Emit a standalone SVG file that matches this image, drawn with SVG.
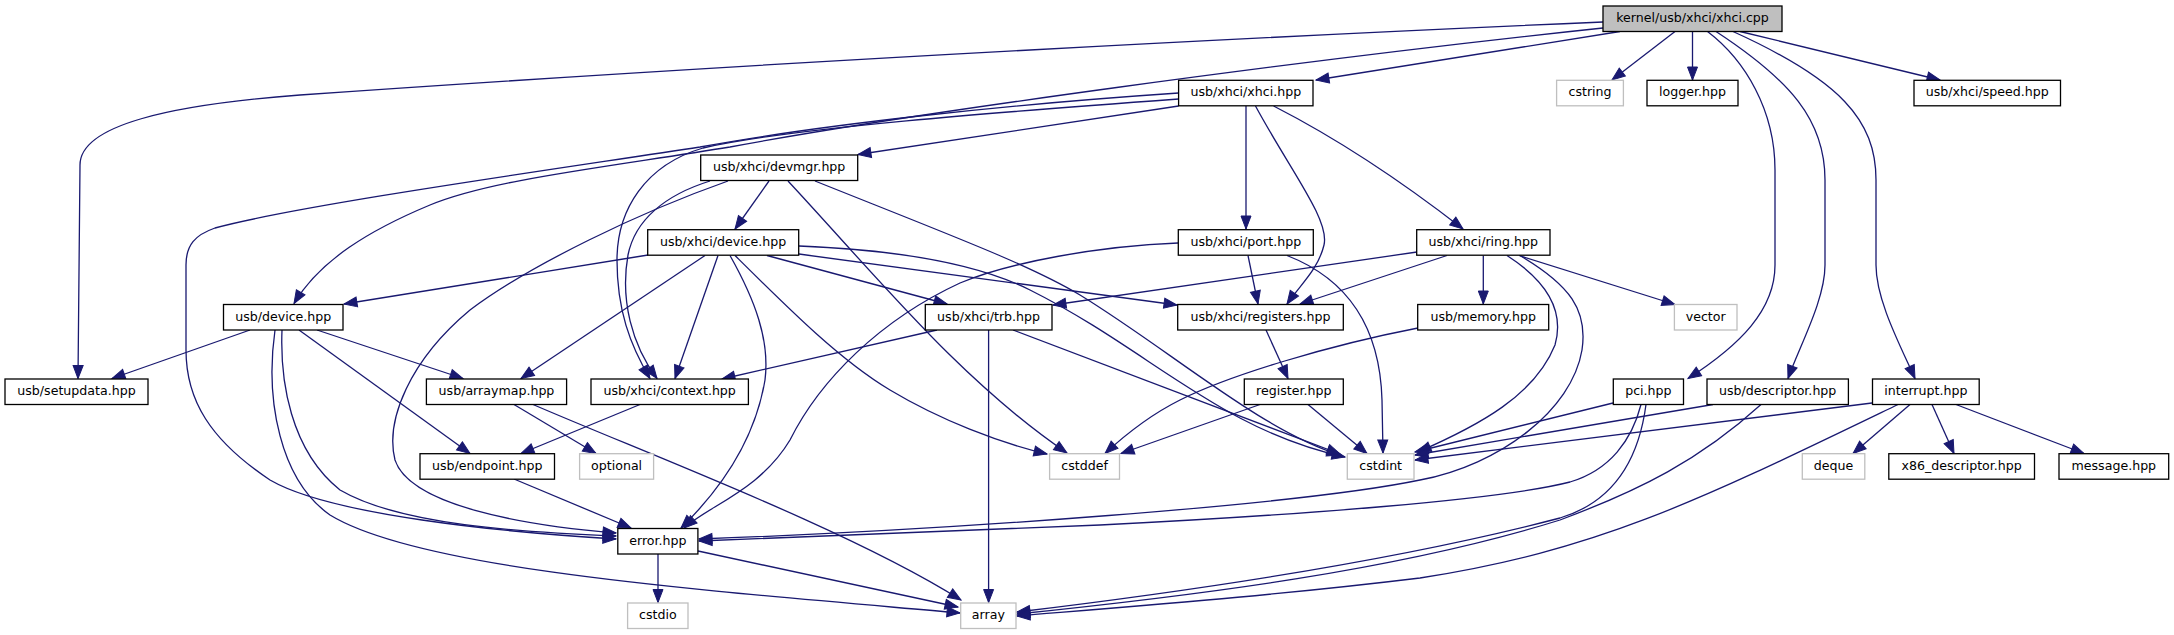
<svg xmlns="http://www.w3.org/2000/svg" width="2174" height="635" viewBox="0 0 2174 635">
<style>
.n rect{fill:#fff;stroke:#000;stroke-width:1.3}
.s rect{stroke:#bfbfbf}
.r rect{fill:#bfbfbf}
text{font-family:"DejaVu Sans",sans-serif;font-size:12.6px;text-anchor:middle;fill:#000}
#edges path{fill:none;stroke:#191970;stroke-width:1.3;marker-end:url(#a)}
</style>
<defs>
<marker id="a" markerUnits="userSpaceOnUse" markerWidth="14" markerHeight="11" refX="13" refY="5" orient="auto" overflow="visible">
<path d="M0,0 L13,5 L0,10 z" fill="#191970" stroke="#191970" stroke-width="1"/>
</marker>
</defs>
<rect width="2174" height="635" fill="#fff"/>
<g id="edges">
<path d="M1603,22 C1300,35 800,60 300,95 C170,105 80,125 80,165 L78,378.5"/>
<path d="M1603,28 C1300,60 900,115 730,147 C600,168 490,180 430,205 C370,230 320,260 294,303.5"/>
<path d="M1620,31.5 L1316,80"/>
<path d="M1675,31.5 L1612,80"/>
<path d="M1692.5,31.5 L1692.5,80"/>
<path d="M1740,31.5 L1940,80"/>
<path d="M1707.5,31.5 C1745,60 1775,110 1775,170 L1775,265 C1775,310 1740,345 1688,378.5"/>
<path d="M1716,31.5 C1790,80 1825,120 1825,180 L1825,265 C1825,300 1800,345 1788,378.5"/>
<path d="M1733,31.5 C1840,80 1876,120 1876,180 L1876,265 C1876,300 1900,345 1915,378.5"/>
<path d="M1178.6,106 L858,154.5"/>
<path d="M1246,106 L1246,229"/>
<path d="M1255.5,106 C1290,170 1330,220 1324,245 C1318,270 1300,285 1287,304"/>
<path d="M1273.6,106 C1340,140 1400,180 1463,229"/>
<path d="M1178.6,93 C1000,105 820,125 700,147 C550,170 300,205 215,228 C195,235 186,245 186,265 L186,350 C186,400 210,440 270,480 C330,515 500,532 616,539"/>
<path d="M1178.6,99 C1000,112 790,128 703,148 C645,165 617,210 617,260 C617,310 630,345 650,378.5"/>
<path d="M769,181 L735,229"/>
<path d="M710,181 C665,195 635,220 628,255 C620,300 632,345 657,378.5"/>
<path d="M728,181 C640,212 530,265 470,310 C410,360 385,420 395,460 C410,505 520,525 616,533"/>
<path d="M788,181 C880,280 960,380 1067,453"/>
<path d="M815,181 C950,235 1030,265 1080,295 C1170,350 1260,430 1340,455"/>
<path d="M648,255 L344,304"/>
<path d="M705,255.5 L521,378.5"/>
<path d="M718,255.5 L675,378.5"/>
<path d="M730,255.5 C755,300 770,340 765,380 C755,440 720,490 681,528"/>
<path d="M735,255.5 C790,310 840,360 890,390 C940,420 1000,443 1047,454"/>
<path d="M767,255.5 L947,304"/>
<path d="M799,246 C900,250 980,265 1030,290 C1150,350 1220,430 1345,457"/>
<path d="M799,254 L1177,305"/>
<path d="M1178,243 C1100,246 1010,262 960,283 C880,320 820,380 790,440 C760,490 710,505 684,528"/>
<path d="M1248,255.5 L1258,304"/>
<path d="M1287,255.5 C1350,280 1380,330 1382,400 L1383,453"/>
<path d="M1417,252 L1053,305"/>
<path d="M1447,255.5 L1300,304"/>
<path d="M1483.3,255.5 L1483.3,304"/>
<path d="M1519,255.5 L1675,304.5"/>
<path d="M1507,255.5 C1545,280 1565,310 1555,345 C1535,395 1480,425 1418,452"/>
<path d="M1520,255.5 C1570,285 1588,310 1582,350 C1572,410 1500,465 1420,480 C1300,505 950,530 699,539"/>
<path d="M250,330 L112,378.5"/>
<path d="M317,330 L463,378.5"/>
<path d="M299,330 L470,453.5"/>
<path d="M282,330 C280,380 290,450 340,490 C400,525 520,532 616,536"/>
<path d="M275,330 C265,400 280,480 330,515 C420,570 700,590 960,613"/>
<path d="M937,330 L722,379"/>
<path d="M988.6,330 L988.6,602.5"/>
<path d="M1013,330 L1340,454"/>
<path d="M1266,330 L1288,378.5"/>
<path d="M1418,328 C1330,345 1230,375 1180,400 C1150,415 1125,435 1105,453.5"/>
<path d="M514,404.5 L596,453.5"/>
<path d="M533,404.5 C650,455 850,530 961,600"/>
<path d="M640,404.5 L521,453.5"/>
<path d="M1260,404.5 L1121,453.5"/>
<path d="M1308,404.5 L1367,453.5"/>
<path d="M1613,403 L1415,452"/>
<path d="M1641,404.5 C1632,440 1610,470 1570,482 C1500,500 1300,515 1100,525 C950,532 800,537 699,541"/>
<path d="M1646,404.5 C1640,450 1620,500 1560,518 C1400,560 1200,590 1017,612"/>
<path d="M1713,404.5 L1415,455"/>
<path d="M1761,404.5 C1700,460 1640,490 1560,520 C1400,570 1200,595 1017,614"/>
<path d="M1872,403 L1415,460"/>
<path d="M1910,404.5 L1853,453.5"/>
<path d="M1932,404.5 L1954,453.5"/>
<path d="M1956,404.5 L2084,453.5"/>
<path d="M1898,404.5 C1700,500 1600,550 1420,578 C1280,595 1150,605 1017,616"/>
<path d="M514,479 L631,528"/>
<path d="M658,554 L658,602.5"/>
<path d="M698,551 L958,607"/>
</g>
<g id="n_xhci_cpp" class="n r"><rect x="1603" y="6" width="179" height="25.5"/><text x="1692.5" y="22">kernel/usb/xhci/xhci.cpp</text></g>
<g id="n_xhci_hpp" class="n"><rect x="1178.6" y="80.3" width="134.4" height="25.5"/><text x="1245.8" y="96.3">usb/xhci/xhci.hpp</text></g>
<g id="n_cstring" class="n s"><rect x="1556.6" y="80.3" width="66.8" height="25.5"/><text x="1590" y="96.3">cstring</text></g>
<g id="n_logger" class="n"><rect x="1647" y="80.3" width="91" height="25.5"/><text x="1692.5" y="96.3">logger.hpp</text></g>
<g id="n_speed" class="n"><rect x="1914" y="80.3" width="146.5" height="25.5"/><text x="1987.25" y="96.3">usb/xhci/speed.hpp</text></g>
<g id="n_devmgr" class="n"><rect x="700.7" y="155" width="157" height="25.5"/><text x="779.2" y="171">usb/xhci/devmgr.hpp</text></g>
<g id="n_xdevice" class="n"><rect x="647.7" y="229.7" width="151" height="25.5"/><text x="723.2" y="245.7">usb/xhci/device.hpp</text></g>
<g id="n_port" class="n"><rect x="1178.3" y="229.7" width="135" height="25.5"/><text x="1245.8" y="245.7">usb/xhci/port.hpp</text></g>
<g id="n_ring" class="n"><rect x="1416.7" y="229.7" width="133.3" height="25.5"/><text x="1483.3" y="245.7">usb/xhci/ring.hpp</text></g>
<g id="n_usbdevice" class="n"><rect x="223.5" y="304.5" width="119.5" height="25.5"/><text x="283.25" y="320.5">usb/device.hpp</text></g>
<g id="n_trb" class="n"><rect x="925.3" y="304.5" width="126.7" height="25.5"/><text x="988.6" y="320.5">usb/xhci/trb.hpp</text></g>
<g id="n_registers" class="n"><rect x="1177.7" y="304.5" width="165.6" height="25.5"/><text x="1260.5" y="320.5">usb/xhci/registers.hpp</text></g>
<g id="n_memory" class="n"><rect x="1417.7" y="304.5" width="131" height="25.5"/><text x="1483.2" y="320.5">usb/memory.hpp</text></g>
<g id="n_vector" class="n s"><rect x="1674.4" y="304.5" width="62.6" height="25.5"/><text x="1705.7" y="320.5">vector</text></g>
<g id="n_setupdata" class="n"><rect x="5" y="379" width="143" height="25.5"/><text x="76.5" y="395">usb/setupdata.hpp</text></g>
<g id="n_arraymap" class="n"><rect x="426.4" y="379" width="140.2" height="25.5"/><text x="496.5" y="395">usb/arraymap.hpp</text></g>
<g id="n_context" class="n"><rect x="591" y="379" width="157.4" height="25.5"/><text x="669.7" y="395">usb/xhci/context.hpp</text></g>
<g id="n_register" class="n"><rect x="1244.3" y="379" width="99" height="25.5"/><text x="1293.8" y="395">register.hpp</text></g>
<g id="n_pci" class="n"><rect x="1613.3" y="379" width="70.2" height="25.5"/><text x="1648.4" y="395">pci.hpp</text></g>
<g id="n_descriptor" class="n"><rect x="1707" y="379" width="141.4" height="25.5"/><text x="1777.7" y="395">usb/descriptor.hpp</text></g>
<g id="n_interrupt" class="n"><rect x="1872.5" y="379" width="106.7" height="25.5"/><text x="1925.85" y="395">interrupt.hpp</text></g>
<g id="n_endpoint" class="n"><rect x="420" y="453.7" width="134.5" height="25.5"/><text x="487.25" y="469.7">usb/endpoint.hpp</text></g>
<g id="n_optional" class="n s"><rect x="579.6" y="453.7" width="74" height="25.5"/><text x="616.6" y="469.7">optional</text></g>
<g id="n_cstddef" class="n s"><rect x="1049.6" y="453.7" width="69.9" height="25.5"/><text x="1084.55" y="469.7">cstddef</text></g>
<g id="n_cstdint" class="n s"><rect x="1347.3" y="453.7" width="66.7" height="25.5"/><text x="1380.65" y="469.7">cstdint</text></g>
<g id="n_deque" class="n s"><rect x="1802.3" y="453.7" width="62.5" height="25.5"/><text x="1833.55" y="469.7">deque</text></g>
<g id="n_x86" class="n"><rect x="1888.8" y="453.7" width="145.7" height="25.5"/><text x="1961.65" y="469.7">x86_descriptor.hpp</text></g>
<g id="n_message" class="n"><rect x="2059" y="453.7" width="109.7" height="25.5"/><text x="2113.85" y="469.7">message.hpp</text></g>
<g id="n_error" class="n"><rect x="617.8" y="528.5" width="80.1" height="25.5"/><text x="657.85" y="544.5">error.hpp</text></g>
<g id="n_cstdio" class="n s"><rect x="627.6" y="603" width="60.4" height="25.5"/><text x="657.8" y="619">cstdio</text></g>
<g id="n_array" class="n s"><rect x="960.7" y="603" width="55.3" height="25.5"/><text x="988.35" y="619">array</text></g>
</svg>
